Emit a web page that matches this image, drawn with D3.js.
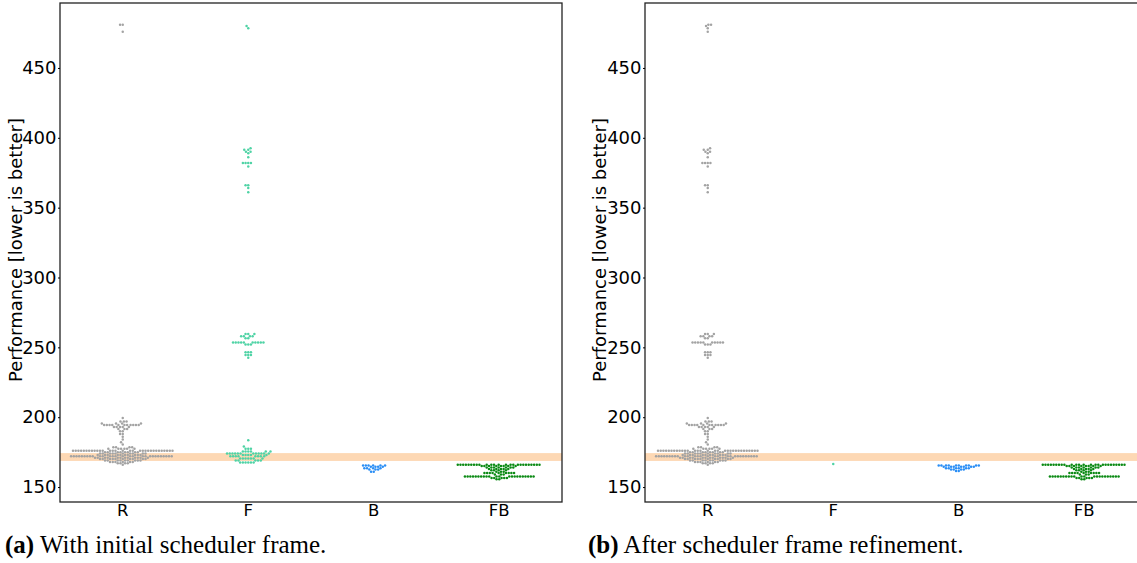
<!DOCTYPE html>
<meta charset="utf-8">
<style>
    body { margin: 0; background: #fff; }
    .tick text { font: 18px "DejaVu Sans", sans-serif; fill: #000; }
    .xlab { font: 16.5px "DejaVu Sans", sans-serif; fill: #000; }
    .ylab { font: 18px "DejaVu Sans", sans-serif; fill: #000; }
    .cap { font: 25px "Liberation Serif", serif; fill: #000; }
</style>
<script src="https://cdn.jsdelivr.net/npm/d3@7"></script>
<svg width="1137" height="563"></svg>
<script>
    // [value, count] pairs
    let categories = ["R", "F", "B", "FB"];
    let yTicks = [150, 200, 250, 300, 350, 400, 450];
    let bandLow = 168.7, bandHigh = 174.3;

    let aR = [[481,2],[476,1],
        [199.5,1],[197,3],[195.5,4],[194.5,11],[193,5],[191.5,3],[190,2],[188,2],[186,1],[184,1],[182,1],[180.5,1],
        [178.5,4],[177.5,6],[176,31],[175,8],[174,10],[173,10],[172,28],[171,12],[170,10],[169,9],[168,6],[167,4],[166,1]];
    let aF = [[480,1],[478.5,1],
        [392.5,1],[391.5,2],[390,2],[389,1],[386,1],[382,4],[379.5,1],[366,2],[364,1],[361,1],
        [259.5,3],[258,4],[256.5,2],[253.5,10],[252,3],[246.5,3],[244.5,3],[242.5,1],
        [183.5,1],[179,1],[177.5,3],[175.5,6],[174,12],[173,5],[172,8],[170.5,7],[169,5],[167.5,6]];
    let aB = [[165.5,6],[164.5,4],[163.5,4],[162.5,3],[161,2]];
    let aFB = [[166,25],[165,8],[164,7],[163,5],[162,4],[161,3],[160,9],[159,3],[157.5,22],[156.5,5],[155.5,2]];

    let bR = [[481,2],[480,1],[478.5,1],[476,1],
        [392.5,1],[391.5,2],[390,2],[389,1],[386,1],[382,4],[379.5,1],[366,2],[364,1],[361,1],
        [259.5,3],[258,4],[256.5,2],[253.5,10],[252,3],[246.5,3],[244.5,3],[242.5,1],
        [199.5,1],[197,3],[195.5,4],[194.5,11],[193,5],[191.5,3],[190,2],[188,2],[186,1],[184,1],[182,1],[180.5,1],
        [178.5,4],[177.5,6],[176,31],[175,8],[174,10],[173,10],[172,28],[171,12],[170,10],[169,9],[168,6],[167,4],[166,1]];
    let bF = [[166.5,1]];
    let bB = [[165.5,10],[164.5,7],[163.5,6],[162.5,4],[161.5,2]];
    let bFB = [[166,25],[165,8],[164,7],[163,5],[162,4],[161,3],[160,9],[159,3],[157.5,22],[156.5,5],[155.5,2]];

    let colors = {R: "#a3a3a3", F: "#4fd3a5", B: "#2a8ef5", FB: "#0b8a14"};

    let svg = d3.select("svg");
    let y = d3.scaleLinear().domain([139.3, 496.5]).range([502, 3]);
    let D = 2.7; // marker spacing in px

    function expand(pairs) {
        let out = [];
        pairs.forEach(function(p) { for (let i = 0; i < p[1]; i++) out.push(p[0]); });
        return out.sort(function(a, b) { return a - b; });
    }

    // greedy beeswarm: each point goes to the free spot nearest the centre
    function swarm(values) {
        let placed = [];
        values.forEach(function(v) {
            let py = y(v);
            let near = placed.filter(function(p) { return Math.abs(p.y - py) < D; });
            let cands = [0];
            near.forEach(function(p) {
                let dx = Math.sqrt(D * D - (p.y - py) * (p.y - py));
                cands.push(p.x + dx, p.x - dx);
            });
            cands.sort(function(a, b) { return (Math.abs(a) - Math.abs(b)) || (a - b); });
            let x = 0;
            for (let c of cands) {
                let ok = near.every(function(p) { return (p.x - c) * (p.x - c) + (p.y - py) * (p.y - py) >= D * D - 1e-6; });
                if (ok) { x = c; break; }
            }
            placed.push({x: x, y: py, v: v});
        });
        return placed;
    }

    function panel(left, width, series, labelX, capX, capTag, capText) {
        let g = svg.append("g");
        let x = d3.scaleBand().domain(categories).range([left, left + width]);

        g.append("rect")
            .attr("x", left).attr("y", y(bandHigh))
            .attr("width", width).attr("height", y(bandLow) - y(bandHigh))
            .attr("fill", "#fdd8b4");

        categories.forEach(function(c) {
            let pts = swarm(expand(series[c]));
            let cx = x(c) + x.bandwidth() / 2;
            g.selectAll(null).data(pts).enter().append("circle")
                .attr("cx", function(d) { return cx + d.x; })
                .attr("cy", function(d) { return d.y; })
                .attr("r", 1.25)
                .attr("fill", colors[c]);
        });

        g.append("rect")
            .attr("x", left).attr("y", 3)
            .attr("width", width).attr("height", 499)
            .attr("fill", "none").attr("stroke", "#222").attr("stroke-width", 1.3);

        let ax = g.append("g")
            .attr("transform", "translate(" + left + ",0)")
            .call(d3.axisLeft(y).tickValues(yTicks).tickSize(2).tickPadding(1.5));
        ax.select(".domain").remove();

        g.selectAll(".xlab").data(categories).enter().append("text")
            .attr("class", "xlab")
            .attr("x", function(d) { return x(d) + x.bandwidth() / 2; })
            .attr("y", 516)
            .attr("text-anchor", "middle")
            .text(function(d) { return d; });

        g.append("text")
            .attr("class", "ylab")
            .attr("transform", "translate(" + labelX + ",250) rotate(-90)")
            .attr("text-anchor", "middle")
            .attr("dominant-baseline", "central")
            .text("Performance [lower is better]");

        let cap = g.append("text").attr("class", "cap").attr("x", capX).attr("y", 553);
        cap.append("tspan").attr("font-weight", "bold").text(capTag);
        cap.append("tspan").text(" " + capText);
    }

    panel(60, 502, {R: aR, F: aF, B: aB, FB: aFB}, 15, 5, "(a)", "With initial scheduler frame.");
    panel(645, 502, {R: bR, F: bF, B: bB, FB: bFB}, 599, 588, "(b)", "After scheduler frame refinement.");
</script>
